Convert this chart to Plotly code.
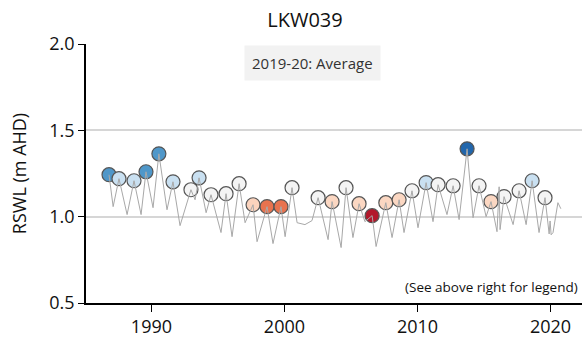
import plotly.graph_objects as go

# Annual peak water levels (circles)
peak_years = [1986.81, 1987.56, 1988.69, 1989.59, 1990.56, 1991.62, 1992.97, 1993.58,
              1994.48, 1995.61, 1996.59, 1997.64, 1998.69, 1999.74, 2000.57, 2002.53,
              2003.58, 2004.63, 2005.61, 2006.59, 2007.62, 2008.62, 2009.59, 2010.65,
              2011.55, 2012.68, 2013.73, 2014.63, 2015.53, 2016.51, 2017.64, 2018.62,
              2019.59]
peak_values = [1.243, 1.220, 1.208, 1.260, 1.364, 1.202, 1.156, 1.225,
               1.127, 1.133, 1.191, 1.069, 1.058, 1.058, 1.168, 1.110,
               1.087, 1.168, 1.075, 1.006, 1.081, 1.098, 1.150, 1.197,
               1.185, 1.179, 1.393, 1.179, 1.087, 1.116, 1.150, 1.208,
               1.110]
peak_colors = ["#4f97c9", "#c9e0f1", "#c9e0f1", "#4f97c9", "#4f97c9", "#c9e0f1", "#f4f4f4", "#c9e0f1",
               "#f4f4f4", "#f4f4f4", "#f4f4f4", "#fbd3bd", "#e8734f", "#e8734f", "#f4f4f4", "#f4f4f4",
               "#fbd7c2", "#f4f4f4", "#fbd7c2", "#b2182b", "#fbd7c2", "#fbd7c2", "#f4f4f4", "#c9e0f1",
               "#f4f4f4", "#f4f4f4", "#2166ac", "#f4f4f4", "#fbd7c2", "#f4f4f4", "#f4f4f4", "#c9e0f1",
               "#f4f4f4"]

# Hydrograph (read peaks and troughs)
line_years = [1986.81, 1987.12, 1987.56, 1988.17, 1988.69, 1989.22, 1989.59, 1990.12,
              1990.56, 1991.17, 1991.62, 1992.15, 1992.97, 1993.28, 1993.58, 1994.11,
              1994.48, 1995.23, 1995.61, 1996.06, 1996.59, 1997.04, 1997.64, 1997.94,
              1998.69, 1999.14, 1999.74, 2000.05, 2000.57, 2000.95, 2001.54, 2002.07,
              2002.53, 2003.28, 2003.58, 2004.26, 2004.63, 2005.15, 2005.61, 2006.05,
              2006.59, 2006.89, 2007.62, 2008.09, 2008.62, 2008.99, 2009.59, 2010.04,
              2010.65, 2011.17, 2011.55, 2012.22, 2012.68, 2013.13, 2013.73, 2014.18,
              2014.63, 2015.16, 2015.53, 2015.98, 2016.14, 2016.21, 2016.51, 2017.19,
              2017.64, 2018.17, 2018.62, 2019.14, 2019.59, 2019.82, 2019.90, 2019.97,
              2020.05, 2020.19, 2020.56, 2020.78]
line_values = [1.243, 1.058, 1.220, 1.012, 1.208, 1.012, 1.260, 1.052,
               1.364, 1.040, 1.202, 0.948, 1.156, 1.098, 1.225, 1.023,
               1.127, 0.908, 1.133, 0.884, 1.191, 0.965, 1.069, 0.855,
               1.058, 0.844, 1.058, 0.884, 1.168, 0.965, 0.954, 0.977,
               1.110, 0.867, 1.087, 0.821, 1.168, 0.879, 1.075, 0.971,
               1.006, 0.827, 1.081, 0.879, 1.098, 0.908, 1.150, 0.936,
               1.197, 0.971, 1.185, 1.012, 1.179, 0.983, 1.393, 0.994,
               1.179, 1.000, 1.087, 0.913, 1.173, 0.925, 1.116, 0.954,
               1.150, 0.954, 1.208, 0.908, 1.110, 0.970, 0.900, 0.975,
               0.895, 0.908, 1.081, 1.046]

x_ticks = [1990, 2000, 2010, 2020]
y_ticks = [0.5, 1.0, 1.5, 2.0]
y_tick_labels = ["0.5", "1.0", "1.5", "2.0"]

FONT = "Open Sans, DejaVu Sans, sans-serif"

W, H = 582, 339
L, T, B = 86, 44, 35.5
PH = H - T - B

fig = go.Figure()
fig.add_trace(go.Scatter(
    x=peak_years, y=peak_values, mode="markers",
    marker=dict(size=14, color=peak_colors, line=dict(color="#555555", width=1.2)),
    showlegend=False, hoverinfo="skip"))
fig.add_trace(go.Scatter(
    x=line_years, y=line_values, mode="lines",
    line=dict(color="#a8a8a8", width=1),
    showlegend=False, hoverinfo="skip"))

fig.update_layout(
    width=W, height=H,
    margin=dict(l=L, r=0, t=T, b=B, pad=0),
    paper_bgcolor="white", plot_bgcolor="white",
    font=dict(family=FONT, color="#111111"),
    title=dict(text="LKW039", x=305 / W, xanchor="center", y=1 - 20 / H, yanchor="middle",
               font=dict(size=20, family=FONT, color="#111111")),
    xaxis=dict(range=[1985.08, 2022.37], tickvals=x_ticks, showgrid=False, zeroline=False,
               showline=True, linecolor="black", linewidth=1.5, ticks="outside", ticklen=7,
               tickcolor="black", tickfont=dict(size=18, family=FONT, color="#111111")),
    yaxis=dict(range=[0.5, 2.0], tickvals=y_ticks, ticktext=y_tick_labels, showgrid=True,
               gridcolor="#d6d6d6", gridwidth=1.5, zeroline=False,
               showline=True, linecolor="black", linewidth=1.5, ticks="outside", ticklen=6,
               tickcolor="black", tickfont=dict(size=18, family=FONT, color="#111111"),
               title=dict(text="RSWL (m AHD)", font=dict(size=18, family=FONT, color="#111111"),
                          standoff=18)),
    annotations=[
        dict(text="2019-20: Average", xref="paper", yref="paper",
             x=(312 - 86) / 496, y=(303.5 - 63) / PH, xanchor="center", yanchor="middle",
             showarrow=False, bgcolor="#f2f2f2", borderpad=7,
             font=dict(size=15, family=FONT, color="#333333")),
        dict(text="(See above right for legend)", xref="paper", yref="paper",
             x=1, y=(303.5 - 287) / PH, xanchor="right", yanchor="middle", xshift=-2,
             showarrow=False, font=dict(size=13.5, family=FONT, color="#111111")),
    ],
)

fig.write_html(
    "out.html",
    config={"displayModeBar": False},
    post_script="document.body.style.margin='0';document.body.style.overflow='hidden';",
)
